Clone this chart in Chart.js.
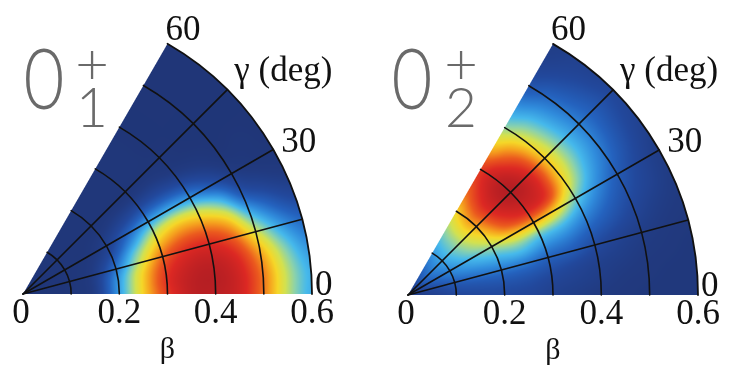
<!DOCTYPE html>
<html><head><meta charset="utf-8">
<script src="https://cdn.jsdelivr.net/npm/chart.js@4.4.1/dist/chart.umd.min.js"></script>
<style>
html,body{margin:0;padding:0;background:#fff}
.box{position:absolute;top:0;height:367px}
#b1{left:0;width:366px}
#b2{left:366px;width:367px}
.lbl{position:absolute;left:0;top:0;height:0;line-height:0;white-space:nowrap;font-family:'Liberation Serif';color:#111;pointer-events:none}
.st{position:absolute;left:0;top:0;height:0;line-height:0;white-space:nowrap;font-family:'Lato Light','Lato','Open Sans';color:#6a6a6a;pointer-events:none}
</style></head><body>
<div class="box" id="b1"><canvas id="c1"></canvas></div>
<div class="box" id="b2"><canvas id="c2"></canvas></div>
<script>
// ---- data ----
const betaNodes  = [0,0.05,0.1,0.15,0.2,0.25,0.3,0.35,0.4,0.45,0.5,0.55,0.6];
const gammaNodes = [0,5,10,15,20,25,30,35,40,45,50,55,60];
// density of the collective wave function, rows = gamma nodes, columns = beta nodes
const density01 = [
 [0.03,0.04,0.05,0.10,0.35,0.62,0.84,0.97,0.98,0.92,0.74,0.52,0.38],
 [0.03,0.04,0.05,0.10,0.35,0.62,0.86,0.97,0.99,0.92,0.74,0.52,0.38],
 [0.03,0.04,0.05,0.10,0.33,0.60,0.83,0.94,0.96,0.88,0.68,0.47,0.33],
 [0.03,0.04,0.05,0.09,0.28,0.53,0.76,0.87,0.88,0.78,0.55,0.36,0.25],
 [0.03,0.04,0.05,0.08,0.22,0.45,0.65,0.75,0.74,0.63,0.38,0.23,0.15],
 [0.03,0.04,0.05,0.07,0.16,0.34,0.52,0.60,0.56,0.42,0.20,0.12,0.08],
 [0.03,0.04,0.05,0.06,0.12,0.24,0.35,0.38,0.33,0.21,0.10,0.06,0.05],
 [0.03,0.04,0.05,0.05,0.09,0.15,0.20,0.20,0.16,0.10,0.05,0.05,0.04],
 [0.03,0.04,0.05,0.05,0.06,0.09,0.10,0.10,0.07,0.05,0.04,0.04,0.04],
 [0.03,0.04,0.05,0.05,0.05,0.05,0.05,0.05,0.05,0.04,0.04,0.04,0.04],
 [0.03,0.04,0.05,0.05,0.05,0.05,0.05,0.05,0.04,0.04,0.04,0.04,0.04],
 [0.03,0.04,0.05,0.05,0.05,0.05,0.05,0.05,0.04,0.04,0.04,0.04,0.04],
 [0.03,0.04,0.05,0.05,0.05,0.05,0.05,0.05,0.04,0.04,0.04,0.04,0.04]
];
const density02 = [
 [0.10,0.12,0.15,0.16,0.16,0.15,0.12,0.10,0.08,0.07,0.06,0.06,0.06],
 [0.10,0.13,0.17,0.18,0.18,0.17,0.14,0.12,0.10,0.08,0.07,0.06,0.06],
 [0.10,0.14,0.19,0.21,0.22,0.21,0.18,0.15,0.12,0.10,0.08,0.07,0.06],
 [0.10,0.16,0.22,0.26,0.28,0.28,0.24,0.22,0.17,0.13,0.10,0.08,0.07],
 [0.10,0.18,0.26,0.31,0.35,0.38,0.33,0.30,0.24,0.19,0.14,0.10,0.08],
 [0.10,0.20,0.29,0.36,0.42,0.48,0.45,0.42,0.33,0.25,0.18,0.13,0.09],
 [0.10,0.22,0.31,0.40,0.50,0.63,0.68,0.62,0.45,0.32,0.22,0.15,0.10],
 [0.10,0.23,0.33,0.45,0.58,0.78,0.88,0.84,0.58,0.39,0.27,0.18,0.12],
 [0.10,0.24,0.35,0.48,0.64,0.86,0.96,0.90,0.63,0.43,0.30,0.20,0.14],
 [0.10,0.24,0.36,0.50,0.68,0.90,1.00,0.90,0.63,0.43,0.30,0.21,0.15],
 [0.10,0.24,0.36,0.50,0.70,0.90,0.98,0.85,0.60,0.41,0.28,0.19,0.13],
 [0.10,0.23,0.35,0.49,0.67,0.85,0.92,0.76,0.55,0.38,0.25,0.16,0.12],
 [0.10,0.22,0.34,0.47,0.62,0.78,0.84,0.66,0.48,0.33,0.20,0.13,0.10]
];
const betaTicks = [0,0.2,0.4,0.6];
const betaTickLabels = ['0','0.2','0.4','0.6'];
const gammaTicks = [0,30,60];
const gammaTickLabels = ['0','30','60'];
const betaArcs = [0.1,0.2,0.3,0.4,0.5];
const gammaRays = [15,30,45];
const betaTitle = 'β';
const gammaTitle = 'γ (deg)';
const stateNames = [{main:'0',sup:'+',sub:'1'},{main:'0',sup:'+',sub:'2'}];

// ---- styling ----
const cmapStops = [
 [0.00,[30,50,112]],[0.08,[33,58,128]],[0.16,[34,72,156]],[0.24,[36,98,190]],
 [0.32,[48,140,220]],[0.40,[70,185,235]],[0.47,[140,210,170]],[0.54,[210,225,80]],
 [0.61,[245,215,40]],[0.69,[245,160,30]],[0.78,[235,90,30]],[0.88,[220,40,35]],[1.00,[180,30,35]]
];
const SERIF_BASE = 0.3375; // (ascent-descent)/2, Liberation Serif
const SANS_BASE = 0.387;   // (ascent-descent)/2, Lato

// ---- text elements, created before anything heavy runs ----
function createLabels(boxId, st){
  const box=document.getElementById(boxId), els={};
  const mk=(key,text,size,cls)=>{
    const el=document.createElement('div'); el.className=cls;
    el.style.fontSize=size+'px'; el.style.visibility='hidden';
    el.textContent=text; box.appendChild(el); els[key]={el,size,cls};
  };
  betaTickLabels.forEach((t,i)=>mk('b'+i,t,35,'lbl'));
  mk('bt',betaTitle,30,'lbl');
  gammaTickLabels.forEach((t,i)=>mk('g'+i,t,35,'lbl'));
  mk('gt',gammaTitle,35,'lbl');
  mk('sm',st.main,84,'st');
  mk('sp',st.sup,58,'st');
  mk('sb',st.sub,55,'st');
  return els;
}
const labels1=createLabels('b1',stateNames[0]);
const labels2=createLabels('b2',stateNames[1]);

function cmap(v){
  v = Math.max(0,Math.min(1,v));
  for(let k=1;k<cmapStops.length;k++){
    if(v<=cmapStops[k][0]){
      const a=cmapStops[k-1],b=cmapStops[k],t=(v-a[0])/(b[0]-a[0]);
      return [0,1,2].map(i=>a[1][i]+(b[1][i]-a[1][i])*t);
    }
  }
  return cmapStops[cmapStops.length-1][1];
}
function cr(p0,p1,p2,p3,t){
  return 0.5*((2*p1)+(-p0+p2)*t+(2*p0-5*p1+4*p2-p3)*t*t+(-p0+3*p1-3*p2+p3)*t*t*t);
}
function sample(grid,b,g){
  const nb=betaNodes.length, ng=gammaNodes.length;
  const sb=(betaNodes[nb-1]-betaNodes[0])/(nb-1), sg=(gammaNodes[ng-1]-gammaNodes[0])/(ng-1);
  const fb=(b-betaNodes[0])/sb, fg=(g-gammaNodes[0])/sg;
  const ib=Math.min(nb-2,Math.max(0,Math.floor(fb))), ig=Math.min(ng-2,Math.max(0,Math.floor(fg)));
  const tb=fb-ib, tg=fg-ig;
  const cb=i=>Math.min(nb-1,Math.max(0,i)), cg=i=>Math.min(ng-1,Math.max(0,i));
  const rows=[];
  for(let d=-1;d<=2;d++){
    const r=grid[cg(ig+d)];
    rows.push(cr(r[cb(ib-1)],r[cb(ib)],r[cb(ib+1)],r[cb(ib+2)],tb));
  }
  return cr(rows[0],rows[1],rows[2],rows[3],tg);
}

const polarPlugin = {
  id:'polarMap',
  beforeDatasetsDraw(chart){
    const o=chart.options.plugins.polarMap;
    const xs=chart.scales.x, ys=chart.scales.y, ca=chart.chartArea;
    const ox=xs.getPixelForValue(0), oy=ys.getPixelForValue(0);
    const bMax=betaNodes[betaNodes.length-1], gMax=gammaNodes[gammaNodes.length-1];
    const R=xs.getPixelForValue(bMax)-ox;
    const x0=Math.floor(ca.left)-2, y0=Math.floor(ca.top)-2;
    const w=Math.ceil(ca.right-ca.left)+4, h=Math.ceil(ca.bottom-ca.top)+4;
    const key=[x0,y0,w,h].join(',');
    if(!chart.$img || chart.$imgKey!==key){
      const off=document.createElement('canvas'); off.width=w; off.height=h;
      const octx=off.getContext('2d'); const img=octx.createImageData(w,h); const d=img.data;
      const s60=Math.sin(gMax*Math.PI/180), c60=Math.cos(gMax*Math.PI/180);
      for(let j=0;j<h;j++){
        for(let i=0;i<w;i++){
          const px=x0+i+0.5, py=y0+j+0.5;
          const dx=px-ox, dy=oy-py, rp=Math.hypot(dx,dy);
          const a=Math.min(1,Math.max(0,Math.min(R-rp+0.5, dy+0.5, dx*s60-dy*c60+0.5)));
          if(a<=0) continue;
          const bx=xs.getValueForPixel(px), by=ys.getValueForPixel(py);
          const b=Math.min(bMax,Math.hypot(bx,by));
          const g=Math.min(gMax,Math.max(0,Math.atan2(by,bx)*180/Math.PI));
          const c=cmap(sample(o.values,b,g));
          const k=(j*w+i)*4;
          d[k]=c[0]; d[k+1]=c[1]; d[k+2]=c[2]; d[k+3]=Math.round(a*255);
        }
      }
      octx.putImageData(img,0,0);
      chart.$img=off; chart.$imgKey=key;
    }
    chart.ctx.drawImage(chart.$img,x0,y0);
  },
  afterDatasetsDraw(chart){
    const xs=chart.scales.x, ys=chart.scales.y, ctx=chart.ctx;
    const ox=xs.getPixelForValue(0), oy=ys.getPixelForValue(0);
    const bMax=betaNodes[betaNodes.length-1], gMax=gammaNodes[gammaNodes.length-1];
    const R=xs.getPixelForValue(bMax)-ox;
    ctx.save();
    ctx.strokeStyle='#111'; ctx.lineWidth=1.6; ctx.lineCap='round';
    betaArcs.forEach(b=>{
      const r=xs.getPixelForValue(b)-ox;
      ctx.beginPath(); ctx.arc(ox,oy,r,-gMax*Math.PI/180,0); ctx.stroke();
    });
    gammaRays.forEach(g=>{
      const t=g*Math.PI/180;
      ctx.beginPath(); ctx.moveTo(ox,oy);
      ctx.lineTo(xs.getPixelForValue(bMax*Math.cos(t)), ys.getPixelForValue(bMax*Math.sin(t)));
      ctx.stroke();
    });
    ctx.lineWidth=1.8;
    ctx.beginPath(); ctx.arc(ox,oy,R,-gMax*Math.PI/180,0); ctx.stroke();
    ctx.restore();
  },
  afterDraw(chart){
    const o=chart.options.plugins.polarMap, els=o.labels;
    const xs=chart.scales.x, ys=chart.scales.y;
    const ox=xs.getPixelForValue(0), oy=ys.getPixelForValue(0);
    const bMax=betaNodes[betaNodes.length-1];
    const put=(key,x,baseline,tf)=>{
      const e=els[key];
      const base=e.cls==='lbl'?SERIF_BASE:SANS_BASE;
      e.el.style.left=x+'px';
      e.el.style.top=(baseline-base*e.size)+'px';
      e.el.style.transform=tf||'none';
      e.el.style.visibility='visible';
    };
    betaTicks.forEach((b,i)=>put('b'+i, xs.getPixelForValue(b)+(b===0?-2:0), oy+30, 'translateX(-50%)'));
    put('bt', xs.getPixelForValue(bMax/2), oy+64, 'translateX(-50%)');
    const off={0:[3,2],30:[8,3],60:[-2,-3]};
    gammaTicks.forEach((g,i)=>{
      const t=g*Math.PI/180;
      const px=xs.getPixelForValue(bMax*Math.cos(t)), py=ys.getPixelForValue(bMax*Math.sin(t));
      put('g'+i, px+off[g][0], py+off[g][1]);
    });
    {
      const t=45*Math.PI/180;
      const px=xs.getPixelForValue(bMax*Math.cos(t)), py=ys.getPixelForValue(bMax*Math.sin(t));
      put('gt', px+7, py-8);
    }
    const p=o.labelPos;
    put('sm', p.x, 110, 'translateX(-50%) scaleX(0.84)');
    put('sp', p.sx, 84, 'translateX(-50%)');
    put('sb', p.sx, 127, 'translateX(-50%)');
  }
};

function makeChart(id, values, pad, labels, labelPos){
  return new Chart(document.getElementById(id), {
    type:'scatter',
    data:{datasets:[{data:[], pointRadius:0}]},
    options:{
      responsive:true, maintainAspectRatio:false, animation:false, events:[],
      layout:{padding:pad},
      scales:{
        x:{type:'linear',min:0,max:0.6,display:false},
        y:{type:'linear',min:0,max:0.6,display:false}
      },
      plugins:{legend:{display:false},tooltip:{enabled:false},
        polarMap:{values,labels,labelPos}}
    },
    plugins:[polarPlugin]
  });
}
let built=false;
function build(){
  if(built) return; built=true;
  makeChart('c1', density01, {left:23,right:54,top:5,bottom:73}, labels1, {x:44, sx:92});
  makeChart('c2', density02, {left:42,right:35,top:5,bottom:72}, labels2, {x:45.5, sx:95});
}
window.addEventListener('load',()=>{
  document.fonts.ready.then(()=>requestAnimationFrame(()=>setTimeout(build,50)));
});
setTimeout(build,1500);
</script>
</body></html>
